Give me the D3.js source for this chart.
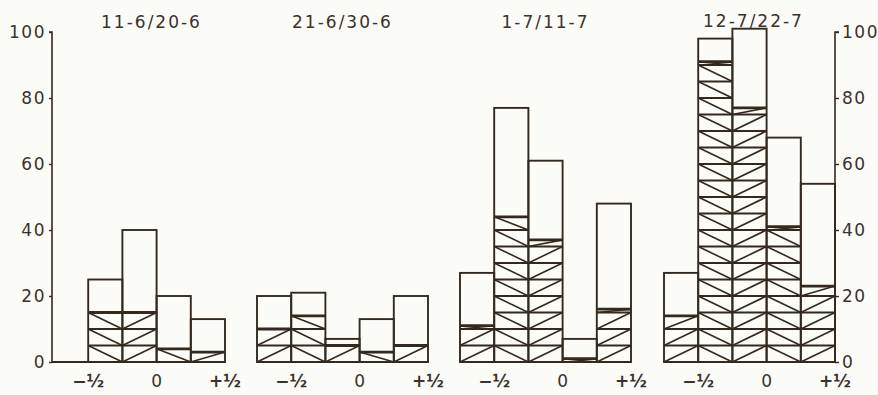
<!DOCTYPE html>
<html>
<head>
<meta charset="utf-8">
<script src="https://cdn.jsdelivr.net/npm/d3@7"></script>
<style>
  html, body { margin: 0; padding: 0; background: #fbfbf8; }
  svg { display: block; }
  text { font-family: "DejaVu Sans", sans-serif; fill: #3a322d; }
</style>
</head>
<body>
<svg id="chart" width="878" height="395"></svg>
<script>
// ---- data ----
const panelTitles = ["11-6/20-6", "21-6/30-6", "1-7/11-7", "12-7/22-7"];
const binStarts = [-0.75, -0.5, -0.25, 0, 0.25];
const binWidth = 0.25;
const totals1 = [0, 25, 40, 20, 13];
const hatched1 = [0, 15, 15, 4, 3];
const totals2 = [20, 21, 7, 13, 20];
const hatched2 = [10, 14, 5, 3, 5];
const totals3 = [27, 77, 61, 7, 48];
const hatched3 = [11, 44, 37, 1, 16];
const totals4 = [27, 98, 101, 68, 54];
const hatched4 = [14, 91, 77, 41, 23];
const xTickValues = [-0.5, 0, 0.5];
const xTickLabels = ["\u2212\u00BD", "0", "+\u00BD"];
const yTickValues = [0, 20, 40, 60, 80, 100];
const cellStep = 5;

const totals = [totals1, totals2, totals3, totals4];
const hatched = [hatched1, hatched2, hatched3, hatched4];

// ---- layout ----
const ink = "#33291f";
const svg = d3.select("#chart");
const y = d3.scaleLinear().domain([0, 100]).range([362, 32]);
const panelLeft = [54, 257, 460, 664];
const panelWidth = 171;
const titleShift = [12, 0, 0, 4];

panelTitles.forEach((title, p) => {
  const x = d3.scaleLinear().domain([-0.75, 0.5]).range([panelLeft[p], panelLeft[p] + panelWidth]);
  const g = svg.append("g");

  // hatched cells
  binStarts.forEach((b, i) => {
    const h = hatched[p][i];
    const x0 = x(b), x1 = x(b + binWidth);
    const slash = (i % 2 === 0);
    for (let k = 0; k * cellStep < h; k++) {
      const v0 = k * cellStep, v1 = Math.min(h, (k + 1) * cellStep);
      g.append("line")
        .attr("x1", x0).attr("x2", x1)
        .attr("y1", slash ? y(v0) : y(v1))
        .attr("y2", slash ? y(v1) : y(v0))
        .attr("stroke", ink).attr("stroke-width", 1.6);
      g.append("line")
        .attr("x1", x0).attr("x2", x1)
        .attr("y1", y(v1)).attr("y2", y(v1))
        .attr("stroke", ink).attr("stroke-width", v1 === h ? 2.8 : 2.1);
    }
  });

  // bar outlines
  binStarts.forEach((b, i) => {
    const t = totals[p][i];
    if (t <= 0) return;
    g.append("rect")
      .attr("x", x(b)).attr("width", x(b + binWidth) - x(b))
      .attr("y", y(t)).attr("height", y(0) - y(t))
      .attr("fill", "none").attr("stroke", ink).attr("stroke-width", 1.9);
  });

  // baseline
  const bx0 = p === 0 ? 52 : x(-0.75);
  g.append("line")
    .attr("x1", bx0).attr("x2", x(0.5))
    .attr("y1", y(0)).attr("y2", y(0))
    .attr("stroke", ink).attr("stroke-width", 2.2);

  // x tick labels
  xTickValues.forEach((v, j) => {
    g.append("text")
      .attr("x", x(v)).attr("y", 387)
      .attr("text-anchor", "middle")
      .attr("font-size", 17)
      .attr("font-weight", v === 0 ? "normal" : "bold")
      .text(xTickLabels[j]);
  });

  // title
  g.append("text")
    .attr("x", x(-0.125) + titleShift[p]).attr("y", p === 3 ? 27 : 28)
    .attr("text-anchor", "middle")
    .attr("font-size", 17)
    .attr("letter-spacing", 2)
    .text(title);
});

// left axis
const leftAxis = d3.axisLeft(y).tickValues(yTickValues).tickSize(3).tickPadding(3);
const la = svg.append("g").attr("transform", "translate(52,0)").call(leftAxis);
la.select(".domain").attr("stroke", ink).attr("stroke-width", 1.6).attr("d", `M-3,${y(100)}H0V${y(0)}`);
la.selectAll(".tick line").attr("stroke", ink).attr("stroke-width", 1.4);
la.selectAll(".tick text").attr("font-size", 17).attr("letter-spacing", 1.5)
  .attr("font-family", "DejaVu Sans, sans-serif").attr("fill", "#3a322d");

// right axis
const rightAxis = d3.axisRight(y).tickValues(yTickValues).tickSize(4).tickPadding(3);
const ra = svg.append("g").attr("transform", "translate(835,0)").call(rightAxis);
ra.select(".domain").attr("stroke", ink).attr("stroke-width", 1.6).attr("d", `M4,${y(100)}H0V${y(0)}`);
ra.selectAll(".tick line").attr("stroke", ink).attr("stroke-width", 1.4);
ra.selectAll(".tick text").attr("font-size", 17).attr("letter-spacing", 1.5)
  .attr("font-family", "DejaVu Sans, sans-serif").attr("fill", "#3a322d");
</script>
</body>
</html>
